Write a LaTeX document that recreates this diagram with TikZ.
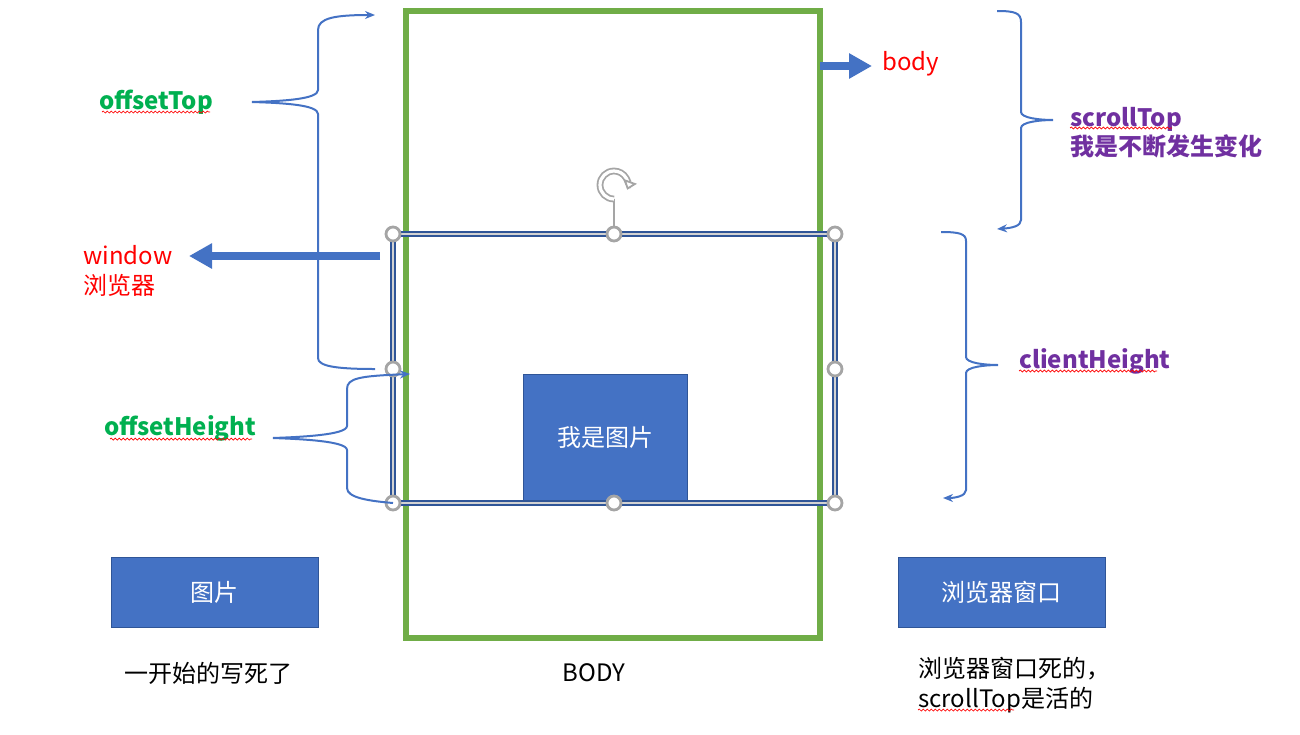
\documentclass[tikz,border=0pt]{standalone}
\usepackage{fontspec}
\setmainfont{Noto Sans CJK SC}
\usetikzlibrary{arrows.meta,decorations.pathmorphing}
\definecolor{gr}{HTML}{70AD47}
\definecolor{bl}{HTML}{4472C4}
\definecolor{dbl}{HTML}{2F5597}
\definecolor{pu}{HTML}{7030A0}
\definecolor{gn}{HTML}{00B050}
\definecolor{rd}{HTML}{FF0000}
\definecolor{hg}{HTML}{A5A5A5}
\begin{document}
\begin{tikzpicture}[x=0.5pt,y=-0.5pt,
  font=\fontsize{12}{15}\selectfont,
  brace/.style={draw=bl, line width=1pt, >={Stealth[length=5pt,width=4pt]}},
  fat/.style={draw=bl, line width=4pt, -{Triangle[length=11.5pt,width=12pt]}},
  bluebox/.style={draw=dbl, line width=0.5pt, fill=bl, text=white, inner sep=0pt},
  handle/.style={circle, draw=hg, fill=white, line width=1.4pt, minimum size=7pt, inner sep=0pt},
  squig/.style={draw=rd, line width=0.35pt, decorate, decoration={snake, segment length=2pt, amplitude=0.5pt}},
  lbl/.style={inner sep=0pt, align=left}
]
\useasboundingbox (0,0) rectangle (1300,734);

% body rectangle
\node[draw=gr, line width=3pt, minimum width=207pt, minimum height=313.5pt, inner sep=0pt] (bodyrect) at (613,324.5) {};

% image box
\node[bluebox, minimum width=82pt, minimum height=63pt] (img) at (605,437) {我是图片};

% window arrow (under the brace)
\coordinate (wa1) at (380,256);
\coordinate (wa2) at (189,256);
\draw[fat] (wa1) -- (wa2);
\node[lbl, text=rd, anchor=west] (winlbl) at (83,271) {window\\浏览器};

% selection rectangle
\node[draw=dbl, double=hg!50, double distance=0.6pt, line width=1.3pt, minimum width=221pt, minimum height=134.5pt, inner sep=0pt] (sel) at (614,368.5) {};

% rotation handle
\node[handle] (h2) at (614,234) {};
\coordinate (rot) at (614,199);
\draw[hg, line width=0.6pt] (rot) -- (h2);
\draw[hg, line width=0.9pt, double=white, double distance=1.6pt, -{Triangle[length=4.5pt,width=7pt,open,fill=white,line width=0.9pt]}]
  (rot) arc[start angle=270, end angle=-20, radius=7pt];

% handles
\node[handle] (h1) at (393,234) {};
\node[handle] (h3) at (835,234) {};
\node[handle] (h4) at (393,369) {};
\node[handle] (h5) at (835,369) {};
\node[handle] (h6) at (393,503) {};
\node[handle] (h7) at (614,503) {};
\node[handle] (h8) at (835,503) {};

% body arrow
\coordinate (ba) at (820,66);
\node[lbl, text=rd, anchor=west] (bodylbl) at (882,64) {body};
\draw[fat] (ba) -- ([xshift=-5pt]bodylbl.west |- ba);

% offsetTop brace
\coordinate (ot1) at (375,15);
\coordinate (otm) at (252,102);
\coordinate (ot2) at (375,369);
\draw[brace, <-] (ot1) .. controls (335,15) and (318,18) .. (318,30) -- (318,90)
  .. controls (318,99) and (285,101) .. (otm)
  .. controls (285,103) and (318,105) .. (318,114) -- (318,358)
  .. controls (318,366) and (335,369) .. (ot2);
\node[lbl, text=gn, font=\fontsize{12}{15}\selectfont\bfseries] (otlbl) at (156,102) {offsetTop};
\draw[squig] (102,112) -- (210,112);

% offsetHeight brace
\coordinate (oh1) at (410,374);
\coordinate (ohm) at (273,438);
\coordinate (oh2) at (393,503);
\draw[brace, <-] (oh1) .. controls (360,376) and (347,378) .. (347,389) -- (347,426)
  .. controls (347,435) and (300,437) .. (ohm)
  .. controls (300,439) and (347,441) .. (347,450) -- (347,488)
  .. controls (347,498) and (370,501) .. (oh2);
\node[lbl, text=gn, font=\fontsize{12}{15}\selectfont\bfseries] (ohlbl) at (180,428) {offsetHeight};
\draw[squig] (110,439) -- (252,439);

% scrollTop brace
\coordinate (st1) at (997,11);
\coordinate (stm) at (1053,120);
\coordinate (st2) at (997,229);
\draw[brace, ->] (st1) .. controls (1015,11) and (1021,13) .. (1021,22) -- (1021,112)
  .. controls (1021,118) and (1040,120) .. (stm)
  .. controls (1040,120) and (1021,122) .. (1021,128) -- (1021,220)
  .. controls (1021,226) and (1012,228) .. (st2);
\node[lbl, text=pu, anchor=west, font=\fontsize{12}{14.5}\selectfont\bfseries] (stlbl) at (1070,133) {scrollTop\\我是不断发生变化};
\draw[squig] (1070,128) -- (1172,128);

% clientHeight brace
\coordinate (ch1) at (941,232);
\coordinate (chm) at (998,365);
\coordinate (ch2) at (943,498);
\draw[brace, ->] (ch1) .. controls (960,232) and (966,234) .. (966,241) -- (966,357)
  .. controls (966,363) and (985,365) .. (chm)
  .. controls (985,365) and (966,367) .. (966,373) -- (966,490)
  .. controls (966,496) and (955,498) .. (ch2);
\node[lbl, text=pu, anchor=west, font=\fontsize{12}{15}\selectfont\bfseries] (chlbl) at (1019,361) {clientHeight};
\draw[squig] (1019,371) -- (1157,371);

% bottom boxes and captions
\node[bluebox, minimum width=103.5pt, minimum height=35pt] (picbox) at (214.5,592) {图片};
\node[bluebox, minimum width=103.5pt, minimum height=35pt] (winbox) at (1001.5,592) {浏览器窗口};
\node[lbl] (cap1) at (208,673) {一开始的写死了};
\node[lbl] (cap2) at (594,673) {BODY};
\node[lbl, anchor=west] (cap3) at (918,685) {浏览器窗口死的，\\scrollTop是活的};
\draw[squig] (918,710) -- (1014,710);
\end{tikzpicture}
\end{document}
